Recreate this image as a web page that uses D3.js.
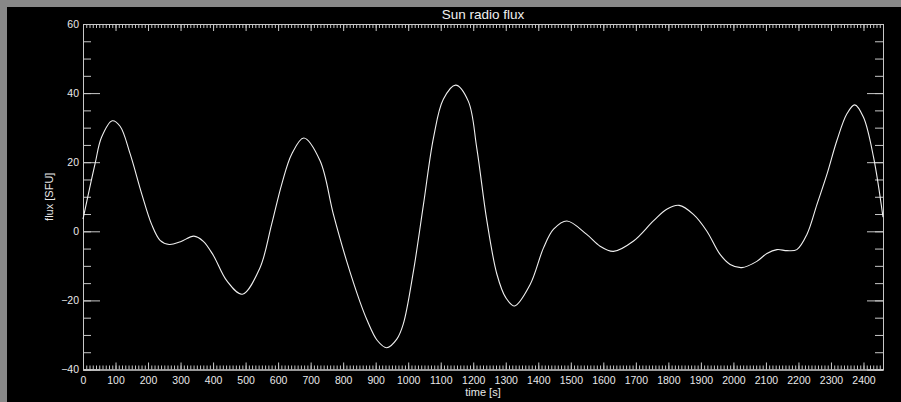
<!DOCTYPE html>
<html><head><meta charset="utf-8">
<script src="https://cdn.jsdelivr.net/npm/d3@7"></script>
<style>
html,body{margin:0;padding:0;background:#888;}
svg{display:block;}
</style></head>
<body>
<script>
const title = "Sun radio flux";
const xLabel = "time [s]";
const yLabel = "flux [SFU]";
const xTicks = d3.range(0, 2401, 100);
const yTicks = [-40, -20, 0, 20, 40, 60];
const times = [0, 37, 57, 90, 114, 145, 181, 211, 237, 265, 300, 341, 370, 401, 442, 490, 544, 580, 611, 642, 679, 729, 770, 811, 852, 873, 905, 934, 965, 985, 1016, 1047, 1078, 1108, 1146, 1185, 1211, 1242, 1273, 1300, 1327, 1375, 1416, 1447, 1488, 1549, 1590, 1631, 1693, 1754, 1795, 1833, 1877, 1918, 1959, 1990, 2026, 2072, 2103, 2134, 2165, 2195, 2226, 2257, 2288, 2318, 2349, 2373, 2400, 2431, 2460];
const flux = [3.5, 19.5, 27.2, 32.0, 30.4, 22.4, 10.7, 2.0, -2.6, -3.8, -3.0, -1.4, -2.9, -7.0, -14.3, -18.2, -10.6, 2.0, 13.6, 22.4, 27.0, 20.4, 4.9, -8.7, -20.5, -25.6, -31.6, -33.7, -31.2, -26.8, -11.6, 7.8, 27.2, 38.2, 42.3, 37.6, 24.0, 3.0, -12.5, -19.2, -21.6, -15.4, -4.8, 0.6, 3.0, -0.9, -4.3, -5.8, -2.8, 3.0, 6.4, 7.5, 4.9, 0.1, -6.7, -9.6, -10.5, -8.7, -6.4, -5.3, -5.6, -5.3, -0.9, 7.8, 16.6, 26.2, 34.0, 36.6, 33.0, 21.4, 4.1];

const W = 901, H = 402;
const L = 83, R = 883, T = 24, B = 369.5;

const svg = d3.select("body").append("svg").attr("width", W).attr("height", H);
svg.append("rect").attr("x", 7).attr("y", 7).attr("width", W - 7).attr("height", H - 7).attr("fill", "#000");

const x = d3.scaleLinear().domain([0, 2460]).range([L, R]);
const y = d3.scaleLinear().domain([-40, 60]).range([B, T]);

const axisCol = "#c8c8c8";
const font = "'Liberation Sans', Arial, Helvetica, sans-serif";

function styleAxis(g) {
  g.selectAll("path.domain").attr("stroke", axisCol).attr("stroke-width", 1);
  g.selectAll(".tick line").attr("stroke", axisCol).attr("stroke-width", 1);
  g.selectAll("text").attr("fill", "#e8e8e8").style("font-family", font).style("font-size", "10.5px");
}

const xMinor = d3.range(0, 2461, 10);
const yMinor = d3.range(-40, 61, 5);

// bottom
svg.append("g").attr("transform", `translate(0,${B})`)
  .call(d3.axisBottom(x).tickValues(xMinor).tickSize(-4).tickFormat("")).call(styleAxis);
svg.append("g").attr("transform", `translate(0,${B})`)
  .call(d3.axisBottom(x).tickValues(xTicks).tickSize(-7).tickPadding(7).tickFormat(d3.format("d"))).call(styleAxis);
// top
svg.append("g").attr("transform", `translate(0,${T})`)
  .call(d3.axisTop(x).tickValues(xMinor).tickSize(-4).tickFormat("")).call(styleAxis);
svg.append("g").attr("transform", `translate(0,${T})`)
  .call(d3.axisTop(x).tickValues(xTicks).tickSize(-7).tickFormat("")).call(styleAxis);
// left
svg.append("g").attr("transform", `translate(${L},0)`)
  .call(d3.axisLeft(y).tickValues(yMinor).tickSize(-8).tickFormat("")).call(styleAxis);
svg.append("g").attr("transform", `translate(${L},0)`)
  .call(d3.axisLeft(y).tickValues(yTicks).tickSize(-17).tickPadding(4).tickFormat(d3.format("d"))).call(styleAxis);
// right
svg.append("g").attr("transform", `translate(${R},0)`)
  .call(d3.axisRight(y).tickValues(yMinor).tickSize(-8).tickFormat("")).call(styleAxis);
svg.append("g").attr("transform", `translate(${R},0)`)
  .call(d3.axisRight(y).tickValues(yTicks).tickSize(-16).tickFormat("")).call(styleAxis);

const data = times.map((t, i) => [t, flux[i]]);
const line = d3.line().x(d => x(d[0])).y(d => y(d[1])).curve(d3.curveCatmullRom.alpha(0.5));
svg.append("path").datum(data).attr("d", line).attr("fill", "none").attr("stroke", "#f0f0f0").attr("stroke-width", 1.1);

svg.append("text").attr("x", (L + R) / 2).attr("y", 19).attr("text-anchor", "middle")
  .attr("fill", "#f0f0f0").style("font-family", font).style("font-size", "13.5px").text(title);
svg.append("text").attr("x", (L + R) / 2).attr("y", 396).attr("text-anchor", "middle")
  .attr("fill", "#e8e8e8").style("font-family", font).style("font-size", "11px").text(xLabel);
svg.append("text").attr("transform", `translate(53,${(T + B) / 2}) rotate(-90)`).attr("text-anchor", "middle")
  .attr("fill", "#e8e8e8").style("font-family", font).style("font-size", "11px").text(yLabel);
</script>
</body></html>
